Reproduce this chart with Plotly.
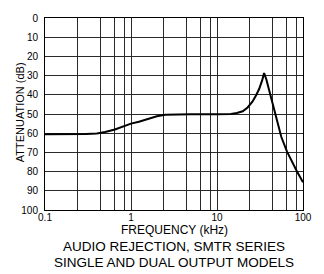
import plotly.graph_objects as go

# Data
freq_khz = [0.1, 0.2, 0.3, 0.4, 0.5, 0.65, 0.83, 1.0, 1.235, 1.6, 2.0, 2.5, 3.5, 5, 10, 14.5,
            17, 19.9, 22.7, 25.8, 28.5, 30.9, 33.5, 35.3, 37.5, 40, 43, 45.9, 50, 56, 65, 75, 84.6, 100]
atten_db = [60.5, 60.5, 60.4, 60.1, 59.4, 58.1, 56.2, 55.0, 54.0, 52.4, 51.2, 50.4, 50.1, 50.1, 50.1, 50.0,
            49.5, 48.6, 46.6, 43.6, 40.2, 37.0, 32.5, 28.7, 32.0, 37.0, 43.0, 47.5, 54.5, 62.0, 69.5, 75.2, 79.7, 85.6]

x_grid = [0.1, 0.24, 0.44, 0.65, 0.83, 1, 2.4, 4.4, 6.5, 8.3, 10, 24, 44, 65, 83, 100]
x_labels = ["0.1", "", "", "", "", "1", "", "", "", "", "10", "", "", "", "", "100"]
y_ticks = [0, 10, 20, 30, 40, 50, 60, 70, 80, 90, 100]
y_labels = [str(v) for v in y_ticks]

title_x = "FREQUENCY (kHz)"
title_y = "ATTENUATION (dB)"
caption1 = "AUDIO REJECTION, SMTR SERIES"
caption2 = "SINGLE AND DUAL OUTPUT MODELS"

FONT = "Liberation Sans, Arial, sans-serif"
GRID = "#2a2a2a"

fig = go.Figure()
fig.add_trace(go.Scatter(x=freq_khz, y=atten_db, mode="lines",
                         line=dict(color="black", width=2), showlegend=False, hoverinfo="skip"))

fig.update_layout(
    width=324, height=274,
    margin=dict(l=45, r=17.5, t=12, b=64),
    paper_bgcolor="white", plot_bgcolor="white",
    font=dict(family=FONT, color="black"),
    xaxis=dict(type="log", range=[-1, 2], tickmode="array", tickvals=x_grid, ticktext=x_labels,
               showgrid=True, gridcolor=GRID, gridwidth=1, ticks="", tickfont=dict(size=10),
               showline=True, linecolor="black", linewidth=1, mirror=True, zeroline=False,
               ticklabelstandoff=-2),
    yaxis=dict(range=[100, 0], tickmode="array", tickvals=y_ticks, ticktext=y_labels,
               showgrid=True, gridcolor=GRID, gridwidth=1, ticks="", tickfont=dict(size=10),
               showline=True, linecolor="black", linewidth=1, mirror=True, zeroline=False,
               ticklabelstandoff=4),
    annotations=[
        dict(text=title_x, x=0.5, y=-0.102, xref="paper", yref="paper", xanchor="center", yanchor="middle",
             showarrow=False, font=dict(size=12, family=FONT)),
        dict(text=caption1, x=0.5, y=-0.19, xref="paper", yref="paper", xanchor="center", yanchor="middle",
             showarrow=False, font=dict(size=13.5, family=FONT)),
        dict(text=caption2, x=0.5, y=-0.275, xref="paper", yref="paper", xanchor="center", yanchor="middle",
             showarrow=False, font=dict(size=13.5, family=FONT)),
        dict(text=title_y, x=-0.094, y=0.508, xref="paper", yref="paper", xanchor="center", yanchor="middle",
             textangle=-90, showarrow=False, font=dict(size=11, family=FONT)),
    ],
)

fig.write_html("out.html", config={"displayModeBar": False, "staticPlot": True},
               post_script="document.body.style.margin='0';document.body.style.padding='0';")
